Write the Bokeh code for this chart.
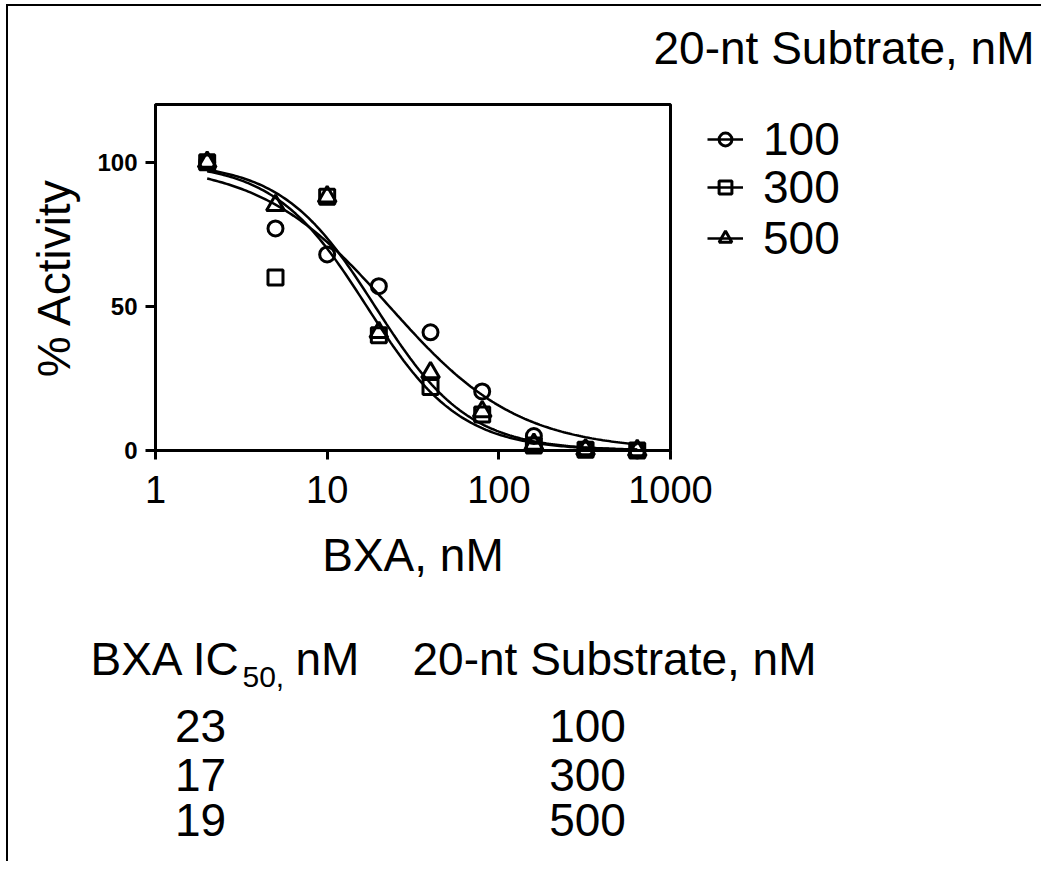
import numpy as np
from bokeh.plotting import figure
from bokeh.models import (Range1d, Legend, LegendItem, FixedTicker, NumeralTickFormatter,
                          LogAxis, LinearAxis, LogScale)
from bokeh.core.properties import value
from bokeh.embed import file_html
from bokeh.resources import INLINE

# ---------------- data ----------------
bxa_nM = [2, 5, 10, 20, 40, 80, 160, 320, 640]
act_100 = [100, 77, 68, 57, 41, 20.5, 5, 0.5, 0]
act_300 = [100, 60, 88, 40, 22, 12.5, 1.7, 0.3, 0]
act_500 = [100, 85, 88, 41, 27, 13.5, 2.2, 0.3, 0]
substrate_labels = ["100", "300", "500"]
ic50_nM = [23, 17, 19]          # fitted IC50 (from the table)
hill_slope = [1.15, 1.6, 1.6]   # estimated fit slopes
x_ticks = [1, 10, 100, 1000]
y_ticks = [0, 50, 100]
y_max = 120
title_text = "20-nt Subtrate, nM"
x_label = "BXA, nM"
y_label = "% Activity"
table_header_left = ("BXA IC", "50,", "nM")
table_header_right = "20-nt Substrate, nM"

# ---------------- layout (pixels) ----------------
FONT = "Liberation Sans"
W, H = 1041, 861
BOX_L, BOX_R, BOX_T, BOX_B = 155, 670, 104, 450
BASE_SHIFT = 0.41   # alphabetic-baseline correction (fraction of font size)

# page-pixel canvas; the chart box gets its own log/linear ranges mapped onto it
dpp = (np.log10(x_ticks[-1]) - np.log10(x_ticks[0])) / (BOX_R - BOX_L)
x_start = 10 ** (np.log10(x_ticks[0]) - BOX_L * dpp)
x_end = 10 ** (np.log10(x_ticks[-1]) + (W - BOX_R) * dpp)
upp = y_max / (BOX_B - BOX_T)
y_start = 0 - (H - BOX_B) * upp
y_end = y_max + BOX_T * upp

p = figure(width=W, height=H, x_range=Range1d(0, W), y_range=Range1d(0, H),
           x_axis_location=None, y_axis_location=None,
           output_backend="svg", toolbar_location=None,
           min_border=0, min_border_left=0, min_border_right=0,
           min_border_top=0, min_border_bottom=0,
           styles={"background": "linear-gradient(#000,#000) 6px 4px / 2px calc(100% - 4px) no-repeat, "
                                 "linear-gradient(#000,#000) 6px 4px / calc(100% - 6px) 2px no-repeat, #fff"})
p.grid.visible = False
p.outline_line_color = None
p.background_fill_color = None
p.border_fill_color = None
p.extra_x_ranges = {"bxa": Range1d(x_start, x_end)}
p.extra_x_scales = {"bxa": LogScale()}
p.extra_y_ranges = {"act": Range1d(y_start, y_end)}
R = dict(x_range_name="bxa", y_range_name="act")

# chart box
p.quad(left=[x_ticks[0]], right=[x_ticks[-1]], bottom=[0], top=[y_max],
       fill_color=None, line_color="black", line_width=3, **R)

# axes fixed at the box edges
xa = LogAxis(fixed_location=0, bounds=(x_ticks[0], x_ticks[-1]),
             ticker=FixedTicker(ticks=x_ticks), formatter=NumeralTickFormatter(format="0"), **R)
xa.minor_tick_line_color = None
xa.major_tick_in = 0
xa.major_tick_out = 9
xa.major_tick_line_width = 3
xa.axis_line_width = 3
xa.major_label_text_font = FONT
xa.major_label_text_font_size = "38px"
xa.major_label_text_color = "black"
xa.major_label_standoff = 16
p.add_layout(xa, "below")

ya = LinearAxis(fixed_location=x_ticks[0], bounds=(0, y_max),
                ticker=FixedTicker(ticks=y_ticks), **R)
ya.minor_tick_line_color = None
ya.major_tick_in = 0
ya.major_tick_out = 10
ya.major_tick_line_width = 3
ya.axis_line_width = 3
ya.major_label_text_font = FONT
ya.major_label_text_font_size = "24px"
ya.major_label_text_font_style = "bold"
ya.major_label_text_color = "black"
ya.major_label_standoff = 8
p.add_layout(ya, "left")

# data + fitted curves
series = [act_100, act_300, act_500]
markers = ["circle", "square", "triangle"]
msizes = [15, 15, 18]
row_centers = [139, 187, 238]
for vals, mk, ms, ic, h, lab, rc in zip(series, markers, msizes, ic50_nM, hill_slope,
                                        substrate_labels, row_centers):
    xc = np.logspace(np.log10(bxa_nM[0]), np.log10(bxa_nM[-1]), 200)
    yc = 100.0 / (1.0 + (xc / ic) ** h)
    lr = p.line(xc, yc, line_color="black", line_width=2.5, **R)
    sr = p.scatter(bxa_nM, vals, marker=mk, size=ms, fill_color=None,
                   line_color="black", line_width=3, **R)
    lg = Legend(items=[LegendItem(label=lab, renderers=[lr, sr])],
                location=(707, H - (rc + 27)), glyph_width=36, glyph_height=32,
                label_text_font=FONT, label_text_font_size="46px",
                label_text_color="black",
                label_standoff=20, spacing=0, padding=0, margin=0,
                border_line_color=None, background_fill_alpha=0)
    p.add_layout(lg)


def put(x, y, texts, size, align="left"):
    # y: page baseline position
    p.text(x=x, y=[H - (v - BASE_SHIFT * size) for v in y], text=texts,
           text_font=value(FONT), text_font_size=f"{size}px",
           text_align=align, text_baseline="alphabetic", text_color="black")


# titles / axis labels
put([1034], [66], [title_text], 46, align="right")
put([(BOX_L + BOX_R) / 2], [573], [x_label], 46, align="center")
p.text(x=[53], y=[H - (BOX_T + BOX_B) / 2], text=[y_label], angle=np.pi / 2,
       text_font=value(FONT), text_font_size="46px",
       text_align="center", text_baseline="middle", text_color="black")

# table
put([90], [677], [table_header_left[0]], 46)
put([242], [689], [table_header_left[1]], 30)
put([295], [677], [table_header_left[2]], 46)
put([412], [677], [table_header_right], 46)
row_y = [744, 793, 838]
put([200] * 3, row_y, [str(v) for v in ic50_nM], 46, align="center")
put([587] * 3, row_y, substrate_labels, 46, align="center")

open("out.html", "w").write(file_html(p, INLINE))
